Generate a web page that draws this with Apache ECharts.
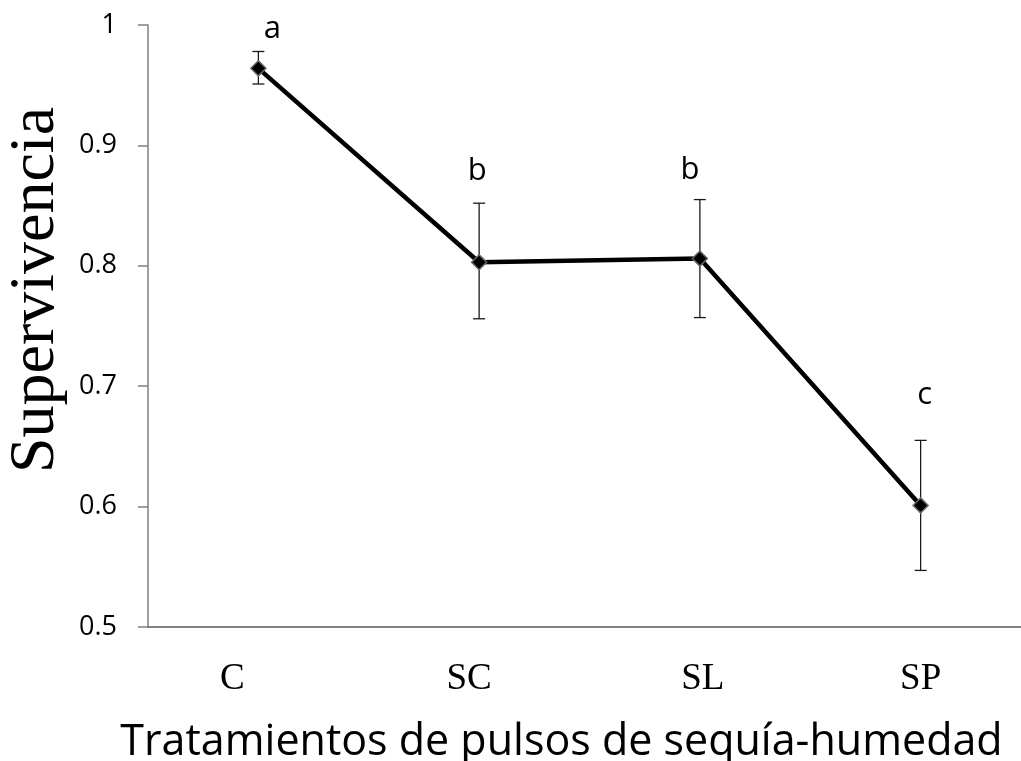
<!DOCTYPE html>
<html>
<head>
<meta charset="utf-8">
<script src="https://cdn.jsdelivr.net/npm/echarts@6/dist/echarts.min.js"></script>
<style>html,body{margin:0;padding:0;background:#fff}#c{width:1021px;height:761px}</style>
</head>
<body>
<div id="c"></div>
<script>
const categories = ['C', 'SC', 'SL', 'SP'];
const survival = [0.964, 0.803, 0.806, 0.601];
const errLow = [0.951, 0.756, 0.757, 0.547];
const errHigh = [0.978, 0.852, 0.855, 0.655];
const letters = ['a', 'b', 'b', 'c'];
const yTicks = { min: 0.5, max: 1, interval: 0.1 };
const yTitle = 'Supervivencia';
const xTitle = 'Tratamientos de pulsos de sequía-humedad';

// per-letter pixel nudges (styling only)
const letterNudge = [[14, -7], [-2, -17], [-10, -14], [4, -30]];
// tick label horizontal nudges (styling only)
const tickNudge = { C: 'l52', SC: 'l20', SL: 'r6', SP: 'n' };

const serifTick = { fontFamily: 'Liberation Serif', fontSize: 37, color: '#000' };

const chart = echarts.init(document.getElementById('c'));
const option = {
  animation: false,
  backgroundColor: '#fff',
  grid: { left: 148, top: 25, width: 883, height: 602, outerBoundsMode: 'none', containLabel: false },
  xAxis: {
    type: 'category',
    data: categories,
    boundaryGap: true,
    axisLine: { show: true, lineStyle: { color: '#595959', width: 1.5 } },
    axisTick: { show: false },
    axisLabel: {
      margin: 34,
      formatter: v => '{' + tickNudge[v] + '|' + v + '}',
      rich: {
        l52: Object.assign({ padding: [0, 52, 0, 0] }, serifTick),
        l20: Object.assign({ padding: [0, 20, 0, 0] }, serifTick),
        r6: Object.assign({ padding: [0, 0, 0, 6] }, serifTick),
        n: Object.assign({}, serifTick)
      }
    },
    name: xTitle,
    nameLocation: 'middle',
    nameGap: 94,
    nameTextStyle: { fontFamily: 'Open Sans', fontSize: 43, color: '#000', padding: [0, 56, 0, 0] }
  },
  yAxis: {
    type: 'value',
    min: yTicks.min,
    max: yTicks.max,
    interval: yTicks.interval,
    splitLine: { show: false },
    axisLine: { show: true, lineStyle: { color: '#7f7f7f', width: 1.5 } },
    axisTick: { show: true, length: 10, lineStyle: { color: '#7f7f7f', width: 1.5 } },
    axisLabel: {
      margin: 31,
      fontFamily: 'Open Sans',
      fontSize: 27,
      color: '#000',
      formatter: v => String(+v.toFixed(1))
    },
    name: yTitle,
    nameLocation: 'middle',
    nameGap: 71,
    nameRotate: 90,
    nameTextStyle: { fontFamily: 'Liberation Serif', fontSize: 64, color: '#000', padding: [0, 0, 0, 72] }
  },
  series: [
    {
      type: 'custom',
      z: 1,
      data: categories.map((c, i) => [i, errLow[i], errHigh[i]]),
      renderItem: (params, api) => {
        const x = api.coord([api.value(0), api.value(1)])[0];
        const yl = api.coord([api.value(0), api.value(1)])[1];
        const yh = api.coord([api.value(0), api.value(2)])[1];
        const w = 6;
        const st = { stroke: '#1a1a1a', lineWidth: 1.3 };
        return {
          type: 'group',
          children: [
            { type: 'line', shape: { x1: x, y1: yl, x2: x, y2: yh }, style: st },
            { type: 'line', shape: { x1: x - w, y1: yl, x2: x + w, y2: yl }, style: st },
            { type: 'line', shape: { x1: x - w, y1: yh, x2: x + w, y2: yh }, style: st }
          ]
        };
      }
    },
    {
      type: 'line',
      z: 3,
      data: survival,
      symbol: 'diamond',
      symbolSize: 15,
      lineStyle: { color: '#000', width: 4.5 },
      itemStyle: { color: '#000', borderColor: '#666', borderWidth: 1.5 }
    },
    {
      type: 'custom',
      z: 4,
      data: categories.map((c, i) => [i, errHigh[i]]),
      renderItem: (params, api) => {
        const p = api.coord([api.value(0), api.value(1)]);
        const n = letterNudge[params.dataIndex];
        return {
          type: 'text',
          style: {
            text: letters[params.dataIndex],
            x: p[0] + n[0],
            y: p[1] + n[1],
            textAlign: 'center',
            textVerticalAlign: 'bottom',
            fontFamily: 'Open Sans',
            fontSize: 31,
            fill: '#000'
          }
        };
      }
    }
  ]
};
chart.setOption(option);
</script>
</body>
</html>
